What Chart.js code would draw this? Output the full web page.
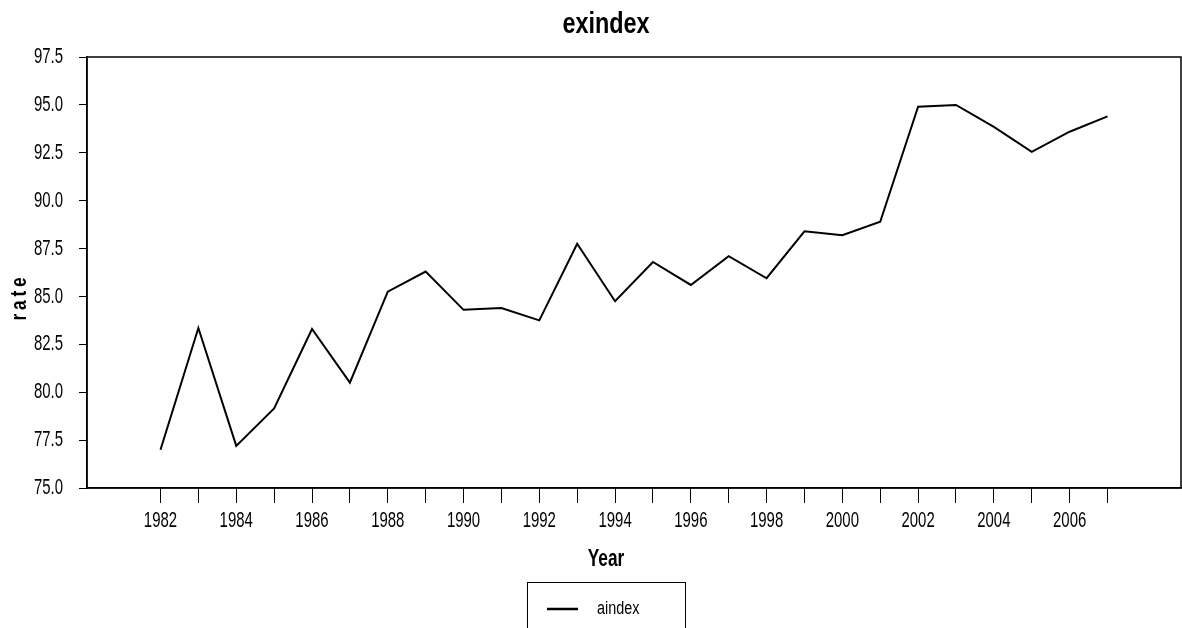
<!DOCTYPE html>
<html>
<head>
<meta charset="utf-8">
<title>exindex</title>
<script src="https://cdn.jsdelivr.net/npm/chart.js@4"></script>
<style>
  html, body { margin: 0; padding: 0; background: #fff; }
  #wrap { width: 1182px; height: 628px; }
</style>
</head>
<body>
<div id="wrap"><canvas id="exindex" width="1182" height="628"></canvas></div>
<script>
// ---------------- data ----------------
let years = [1982, 1983, 1984, 1985, 1986, 1987, 1988, 1989, 1990, 1991,
  1992, 1993, 1994, 1995, 1996, 1997, 1998, 1999, 2000, 2001,
  2002, 2003, 2004, 2005, 2006, 2007];
let aindex = [77.0, 83.35, 77.2, 79.15, 83.3, 80.5, 85.25, 86.3, 84.3, 84.4,
  83.75, 87.75, 84.75, 86.8, 85.6, 87.1, 85.95, 88.4, 88.2, 88.9,
  94.9, 95.0, 93.85, 92.55, 93.6, 94.4];
let yTicks = [75, 77.5, 80, 82.5, 85, 87.5, 90, 92.5, 95, 97.5];

const FONT = "'Liberation Sans', Arial, sans-serif";

// narrow text: squeeze the glyphs sideways, like the reference
let squeezed = (c, text, x, y, font, sx, align) => {
  c.save();
  c.translate(x, y);
  c.scale(sx, 1);
  c.font = font;
  c.textAlign = align;
  c.textBaseline = "middle";
  c.fillText(text, 0, 0);
  c.restore();
};

// tick labels, titles, frame and legend drawn on top
const decor = {
  id: "decor",
  afterDraw(chart) {
    let c = chart.ctx;
    let a = chart.chartArea;
    let xs = chart.scales.x;
    let ys = chart.scales.y;
    let mid = 606;
    c.save();
    c.fillStyle = "#000";
    c.strokeStyle = "#000";

    // frame round the plot
    c.lineWidth = 1.5;
    c.strokeRect(a.left, a.top, a.right - a.left, a.bottom - a.top);

    // tick labels from the scales
    xs.ticks.forEach((t) => {
      if (t.value % 2 === 0) {
        squeezed(c, String(t.value), xs.getPixelForValue(t.value), 521, "22px " + FONT, 0.68, "center");
      }
    });
    ys.ticks.forEach((t) => {
      squeezed(c, t.value.toFixed(1), 63, ys.getPixelForValue(t.value), "22px " + FONT, 0.68, "right");
    });

    // title
    squeezed(c, "exindex", mid, 25, "bold 30px " + FONT, 0.78, "center");

    // x title
    squeezed(c, "Year", mid, 559, "bold 24px " + FONT, 0.72, "center");

    // y title
    c.save();
    c.translate(20, 297);
    c.rotate(-Math.PI / 2);
    c.scale(0.78, 1);
    c.font = "bold 22px " + FONT;
    c.letterSpacing = "5px";
    c.textAlign = "center";
    c.textBaseline = "middle";
    c.fillText("rate", 0, 0);
    c.restore();

    // legend box (runs off the bottom)
    c.lineWidth = 1;
    c.strokeRect(527.5, 582.5, 158, 80);
    c.lineWidth = 2.5;
    c.beginPath();
    c.moveTo(547, 609);
    c.lineTo(578, 609);
    c.stroke();
    squeezed(c, chart.data.datasets[0].label, 597, 609, "18px " + FONT, 0.8, "left");
    c.restore();
  },
};

new Chart(document.getElementById("exindex"), {
  type: "line",
  data: {
    datasets: [
      {
        label: "aindex",
        data: years.map((y, i) => ({ x: y, y: aindex[i] })),
        borderColor: "#000",
        backgroundColor: "#000",
        borderWidth: 2,
        pointRadius: 0,
        tension: 0,
      },
    ],
  },
  options: {
    responsive: false,
    animation: false,
    layout: { padding: { top: 57, right: 1, left: 0, bottom: 0 } },
    plugins: {
      legend: { display: false },
      title: { display: false },
      tooltip: { enabled: false },
    },
    scales: {
      x: {
        type: "linear",
        min: 1980.06,
        max: 2008.94,
        afterBuildTicks: (scale) => {
          scale.ticks = years.map((v) => ({ value: v }));
        },
        afterFit: (scale) => {
          scale.height = 140;
        },
        ticks: { display: false, autoSkip: false },
        grid: {
          drawOnChartArea: false,
          drawTicks: true,
          tickLength: 15,
          color: "#000",
        },
        border: { display: true, color: "#000", width: 1.5 },
      },
      y: {
        min: 75,
        max: 97.5,
        afterBuildTicks: (scale) => {
          scale.ticks = yTicks.map((v) => ({ value: v }));
        },
        afterFit: (scale) => {
          scale.width = 87;
        },
        ticks: { display: false },
        grid: {
          drawOnChartArea: false,
          drawTicks: true,
          tickLength: 8,
          color: "#000",
        },
        border: { display: true, color: "#000", width: 1.5 },
      },
    },
  },
  plugins: [decor],
});
</script>
</body>
</html>
